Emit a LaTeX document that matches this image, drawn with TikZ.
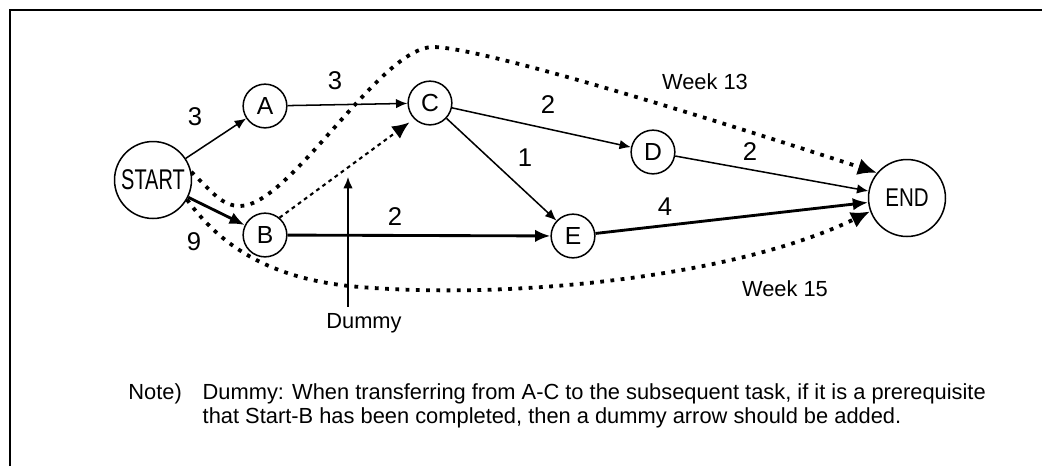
\documentclass[tikz,border=0pt]{standalone}
\usepackage{fontspec}
\setmainfont{Liberation Sans}
\usetikzlibrary{arrows.meta,positioning}

\begin{document}
\begin{tikzpicture}[
  x=0.0185cm, y=-0.0185cm,
  event/.style={draw, circle, line width=0.8pt, minimum size=23pt, inner sep=0pt,
                font=\fontsize{13}{13}\selectfont},
  bigevent/.style={event, minimum size=40.5pt},
  act/.style={-{Latex[length=6pt,width=5pt]}, line width=0.8pt},
  heavyact/.style={-{Latex[length=8pt,width=6.5pt]}, line width=1.5pt},
  dummyact/.style={-{Latex[length=9pt,width=8pt]}, line width=1.1pt, dash pattern=on 2pt off 2pt},
  weekpath/.style={-{Latex[length=10pt,width=9pt]}, line width=2pt, dash pattern=on 2pt off 3.4pt},
  dur/.style={font=\fontsize{13.5}{13.5}\selectfont},
  lbl/.style={font=\fontsize{11.5}{12.3}\selectfont}
]
\useasboundingbox (0,0) rectangle (1042,466);
\draw[line width=1.2pt] (10,466) -- (10,10) -- (1042,10);

% events
\node[bigevent] (start) at (153,180) {\scalebox{0.7}[1]{\fontsize{15}{15}\selectfont START}};
\node[event] (a) at (265,106) {A};
\node[event] (b) at (265,235) {B};
\node[event] (c) at (430,103) {C};
\node[event] (d) at (653,152) {D};
\node[event] (e) at (573,236) {E};
\node[bigevent] (end) at (907,198) {\scalebox{0.8}[1]{\fontsize{13.5}{13.5}\selectfont END}};

% activities
\draw[act] (start) -- (a);
\draw[heavyact] (start) -- (b);
\draw[act] (a) -- (c);
\draw[act] (c) -- (d);
\draw[act] (c) -- (e);
\draw[act] (d) -- (end);
\draw[heavyact] (b) -- (e);
\draw[heavyact] (e) -- (end);
\draw[dummyact, shorten >=3pt] (b.50) -- (c.225);

% durations
\node[dur] (d1) at (195,117) {3};
\node[dur] (d2) at (335,81) {3};
\node[dur] (d3) at (548,105) {2};
\node[dur] (d4) at (525,158) {1};
\node[dur] (d5) at (750,152) {2};
\node[dur] (d6) at (395,217) {2};
\node[dur] (d7) at (665,207) {4};
\node[dur] (d8) at (194,242) {9};

% paths
\draw[weekpath] (start.12) .. controls (212,192) and (222,206) .. (240,206)
  .. controls (290,206) and (380,47) .. (433,47)
  .. controls (480,47) and (700,115) .. (end.140);
\draw[weekpath] (start.-30) .. controls (220,245) and (270,280) .. (360,287)
  .. controls (520,300) and (740,275) .. (end.200);
\node[lbl] (w13) at (705,82) {Week 13};
\node[lbl] (w15) at (785,289) {Week 15};

% dummy pointer
\node[lbl] (dummy) at (364,323) {Dummy};
\coordinate (dtip) at (348,177);
\draw[act] (dummy.north -| dtip) -- (dtip);

% note
\node[lbl, anchor=north west, inner sep=0pt] (note) at (128,383) {%
  \begin{tabular}{@{}l@{\hspace{11pt}}l@{}}
  Note) & Dummy: When transferring from A-C to the subsequent task, if it is a prerequisite\\
        & that Start-B has been completed, then a dummy arrow should be added.
  \end{tabular}};
\end{tikzpicture}
\end{document}
